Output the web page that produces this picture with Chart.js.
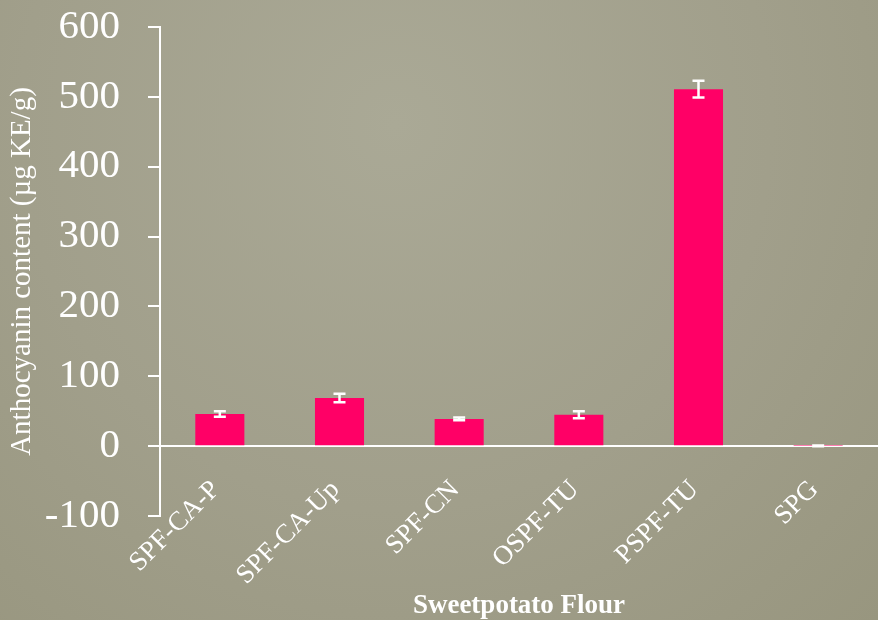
<!DOCTYPE html>
<html lang="en">
<head>
    <meta charset="UTF-8">
    <title>Anthocyanin content</title>
    <script src="https://cdn.jsdelivr.net/npm/chart.js"></script>
    <style>
        html, body { margin: 0; padding: 0; }
        body {
            width: 878px; height: 620px; overflow: hidden;
            background: radial-gradient(ellipse at 45% 20%, #aaa996 0%, #a19f8b 55%, #98967f 100%);
        }
        .chart-container { position: relative; width: 878px; height: 620px; }
    </style>
</head>
<body>
    <div class="chart-container">
        <canvas id="anthoChart"></canvas>
    </div>

    <script>
const categories = ['SPF-CA-P', 'SPF-CA-Up', 'SPF-CN', 'OSPF-TU', 'PSPF-TU', 'SPG'];
const anthocyanin = [46, 69, 39, 45, 511, 0.5];
const errors = [4, 6, 2, 5, 12, 0.5];
const yTicks = [-100, 0, 100, 200, 300, 400, 500, 600];

const serif = '"Liberation Serif", "Times New Roman", serif';

// draws the white error bars from the data arrays via the chart scales
const errorBars = {
    id: 'errorBars',
    afterDatasetsDraw(chart) {
        const ctx = chart.ctx;
        const meta = chart.getDatasetMeta(0);
        const y = chart.scales.y;
        ctx.save();
        ctx.strokeStyle = '#ffffff';
        ctx.lineWidth = 2.5;
        meta.data.forEach((bar, i) => {
            const top = y.getPixelForValue(anthocyanin[i] + errors[i]);
            const bot = y.getPixelForValue(anthocyanin[i] - errors[i]);
            const cap = 6;
            ctx.beginPath();
            ctx.moveTo(bar.x, top); ctx.lineTo(bar.x, bot);
            ctx.moveTo(bar.x - cap, top); ctx.lineTo(bar.x + cap, top);
            ctx.moveTo(bar.x - cap, bot); ctx.lineTo(bar.x + cap, bot);
            ctx.stroke();
        });
        ctx.restore();
    }
};

const ctx = document.getElementById('anthoChart').getContext('2d');
new Chart(ctx, {
    type: 'bar',
    data: {
        labels: categories,
        datasets: [{
            label: 'Anthocyanin',
            data: anthocyanin,
            backgroundColor: '#ff0066',
            borderWidth: 0,
            categoryPercentage: 1,
            barPercentage: 0.41,
        }],
    },
    options: {
        responsive: true,
        maintainAspectRatio: false,
        animation: false,
        layout: { padding: { top: 0, right: 0, left: 5, bottom: 0 } },
        plugins: {
            legend: { display: false },
            tooltip: { enabled: false },
        },
        scales: {
            x: {
                grid: { display: false },
                border: { display: false },
                afterFit: s => { s.height = 104; },
                ticks: {
                    color: '#ffffff',
                    minRotation: 45,
                    maxRotation: 45,
                    mirror: true,   // keeps labels unclipped so they can sit close to the axis
                    padding: 19,
                    labelOffset: 19,
                    font: { family: serif, size: 27 },
                },
                title: {
                    display: true,
                    text: 'Sweetpotato Flour',
                    color: '#ffffff',
                    padding: { top: 0, bottom: -2 },
                    font: { family: serif, size: 27, weight: 'bold' },
                },
            },
            y: {
                min: -100,
                max: 600,
                afterBuildTicks: axis => { axis.ticks = yTicks.map(v => ({ value: v })); },
                afterFit: s => { s.width = 155; s.paddingTop = 27; },
                ticks: {
                    color: '#ffffff',
                    padding: 28,
                    font: { family: serif, size: 41 },
                },
                grid: {
                    color: c => (c.tick && c.tick.value === 0) ? '#ffffff' : 'rgba(0,0,0,0)',
                    lineWidth: 2,
                    tickColor: '#ffffff',
                    tickLength: 12,
                },
                border: { display: true, color: '#ffffff', width: 2 },
                title: {
                    display: true,
                    text: 'Anthocyanin content (µg KE/g)',
                    color: '#ffffff',
                    padding: { top: 0, bottom: 0 },
                    font: { family: serif, size: 29 },
                },
            },
        },
    },
    plugins: [errorBars],
});
    </script>
</body>
</html>
